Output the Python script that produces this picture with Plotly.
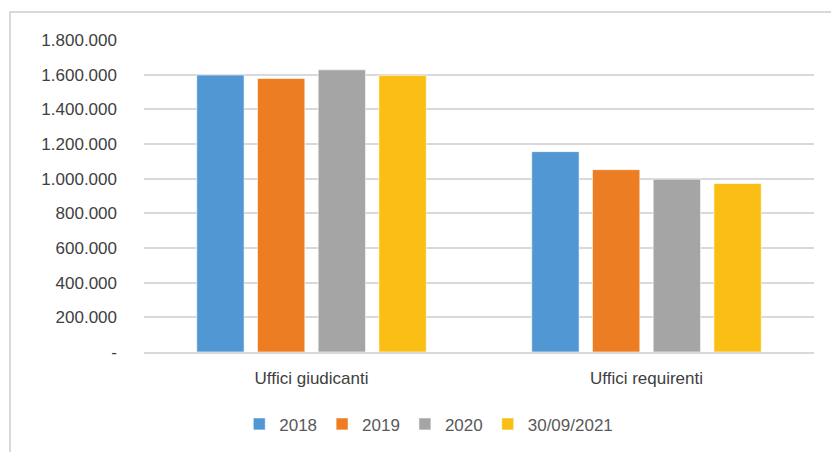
import plotly.graph_objects as go

categories = ["Uffici giudicanti", "Uffici requirenti"]
series_names = ["2018", "2019", "2020", "30/09/2021"]
values_2018 = [1598000, 1156000]
values_2019 = [1578000, 1052000]
values_2020 = [1628000, 997000]
values_2021 = [1596000, 972000]
colors = ["#5097D3", "#ED7D22", "#A5A5A5", "#FBBE14"]

tick_values = [0, 200000, 400000, 600000, 800000, 1000000, 1200000, 1400000, 1600000, 1800000]
tick_labels = ["-", "200.000", "400.000", "600.000", "800.000", "1.000.000",
               "1.200.000", "1.400.000", "1.600.000", "1.800.000"]

series_values = [values_2018, values_2019, values_2020, values_2021]

fig = go.Figure()
for name, vals, col in zip(series_names, series_values, colors):
    fig.add_trace(go.Bar(
        x=categories, y=vals, name=name,
        marker=dict(color=col, line=dict(color="white", width=0.6)),
    ))

font_family = "Liberation Sans, Arial, sans-serif"

fig.update_layout(
    width=831, height=452,
    margin=dict(l=144, r=17, t=40, b=100, autoexpand=False),
    paper_bgcolor="white", plot_bgcolor="white",
    barmode="group", bargap=0.275, bargroupgap=0.22,
    font=dict(family=font_family, size=17, color="#404040"),
    showlegend=True,
    legend=dict(orientation="h", x=0.425, xanchor="center", y=-0.232, yanchor="middle",
                font=dict(size=17, color="#595959"), itemwidth=30,
                traceorder="normal"),
    xaxis=dict(showgrid=False, showline=True, linecolor="#d9d9d9", linewidth=2,
               ticks="", ticklabelstandoff=10, automargin=False,
               tickfont=dict(size=17, color="#404040")),
    yaxis=dict(range=[0, 1800000], tickvals=tick_values, ticktext=tick_labels,
               showgrid=True, gridcolor="#d9d9d9", gridwidth=2, zeroline=False,
               showline=False, ticks="", ticklabelstandoff=26, automargin=False,
               tickfont=dict(size=17, color="#404040")),
    shapes=[dict(type="rect", xref="paper", yref="paper",
                 x0=-0.2, x1=2, y0=-2, y1=1.0897,
                 line=dict(color="#d9d9d9", width=2), fillcolor="rgba(0,0,0,0)",
                 layer="below")],
)

fig.write_html("out.html")
